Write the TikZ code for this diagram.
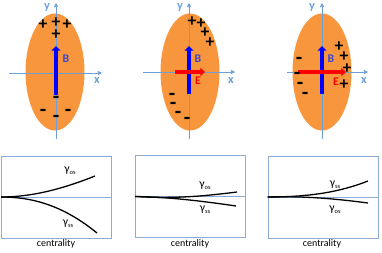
\documentclass[tikz,border=0pt]{standalone}
\usepackage{fontspec}
\setmainfont{Carlito}
\usetikzlibrary{arrows.meta,shapes.geometric}
\definecolor{blobOrange}{RGB}{247,150,60}
\definecolor{axisBlue}{RGB}{110,160,215}
\definecolor{boxBlue}{RGB}{140,172,212}
\definecolor{fieldBlue}{RGB}{0,0,255}
\definecolor{labelBlue}{RGB}{60,70,210}
\definecolor{fieldRed}{RGB}{255,0,0}

\tikzset{
  blob/.style={ellipse,fill=blobOrange,minimum width=1.77cm,minimum height=3.51cm,inner sep=0pt},
  axisline/.style={draw=axisBlue,line width=0.6pt,-{Triangle[length=3.5pt,width=3.5pt]}},
  axislabel/.style={text=axisBlue,inner sep=0pt,font=\bfseries\fontsize{10.5}{10.5}\selectfont},
  bfield/.style={draw=fieldBlue,line width=4.2pt,-{Triangle[length=4pt,width=7.5pt]}},
  efield/.style={draw=fieldRed,line width=3.6pt,-{Triangle[length=4pt,width=7pt]}},
  blabel/.style={text=labelBlue,inner sep=0pt,font=\bfseries\fontsize{10}{10}\selectfont},
  elabel/.style={text=fieldRed,inner sep=0pt,font=\bfseries\fontsize{10}{10}\selectfont},
  plussign/.style={inner sep=0pt,font=\bfseries\fontsize{15}{15}\selectfont},
  minussign/.style={inner sep=0pt,font=\bfseries\fontsize{18}{18}\selectfont},
  plotbox/.style={draw=boxBlue,line width=0.6pt,minimum width=3.3cm,minimum height=2.46cm,inner sep=0pt},
  midline/.style={draw=boxBlue,line width=0.6pt},
  trend/.style={draw=black,line width=1.1pt},
  gamlabel/.style={inner sep=0pt,font=\fontsize{10}{10}\selectfont},
  axtitle/.style={inner sep=0pt,font=\fontsize{8.5}{8.5}\selectfont}
}
\newcommand{\gsub}[1]{γ\raisebox{-1.2pt}{\fontsize{5.5}{5.5}\selectfont #1}}

\begin{document}
\begin{tikzpicture}[x=0.03cm,y=-0.03cm]
\useasboundingbox (0,0) rectangle (382,253);

% upper row
\node[blob] (ell1) at (55,72) {};
\node[blob] (ell2) at (190,72) {};
\node[blob] (ell3) at (322,72) {};

\coordinate (xa1) at (9,73);   \coordinate (xb1) at (102,73);
\coordinate (xa2) at (143,72); \coordinate (xb2) at (235,72);
\coordinate (xa3) at (287,72); \coordinate (xb3) at (368,72);
\coordinate (ya1) at (56,139);  \coordinate (yb1) at (56,3);
\coordinate (ya2) at (189,139); \coordinate (yb2) at (189,3);
\coordinate (ya3) at (322,139); \coordinate (yb3) at (322,3);
\foreach \i in {1,2,3} {
  \draw[axisline] (xa\i) -- (xb\i);
  \draw[axisline] (ya\i) -- (yb\i);
}
\node[axislabel] (xl1) at (97,81) {x};
\node[axislabel] (xl2) at (231,81) {x};
\node[axislabel] (xl3) at (364,81) {x};
\node[axislabel] (yl1) at (47,7) {y};
\node[axislabel] (yl2) at (180,7) {y};
\node[axislabel] (yl3) at (312,7) {y};

\coordinate (ba1) at (56,95);  \coordinate (bb1) at (56,46);
\coordinate (ba2) at (189,94); \coordinate (bb2) at (189,46);
\coordinate (ba3) at (322,94); \coordinate (bb3) at (322,46);
\foreach \i in {1,2,3}
  \draw[bfield] (ba\i) -- (bb\i);
\node[blabel] (bl1) at (66,59) {B};
\node[blabel] (bl2) at (198,59) {B};
\node[blabel] (bl3) at (331,59) {B};

\coordinate (ea2) at (175,72); \coordinate (eb2) at (205,72);
\coordinate (ea3) at (298,72); \coordinate (eb3) at (346,72);
\draw[efield] (ea2) -- (eb2);
\draw[efield] (ea3) -- (eb3);
\node[elabel] (el2) at (198,81) {E};
\node[elabel] (el3) at (336,82) {E};

\foreach \px/\py [count=\i] in {43/25,56/23,67/25,56/35}
  \node[plussign] (pa\i) at (\px,\py) {+};
\foreach \px/\py [count=\i] in {56/100,43/113,68/113,56/119}
  \node[minussign] (ma\i) at (\px,\py) {-};
\foreach \px/\py [count=\i] in {192/22,201/24,205/33,210/43}
  \node[plussign] (pb\i) at (\px,\py) {+};
\foreach \px/\py [count=\i] in {172/97,173/106,178/115,187/121}
  \node[minussign] (mb\i) at (\px,\py) {-};
\foreach \px/\py [count=\i] in {339/47,344/57,347/69,344/85}
  \node[plussign] (pc\i) at (\px,\py) {+};
\foreach \px/\py [count=\i] in {299/61,297/76,300/86,305/96}
  \node[minussign] (mc\i) at (\px,\py) {-};

% lower row
\node[plotbox] (p1) at (56.5,197) {};
\node[plotbox] (p2) at (190.5,196.5) {};
\node[plotbox] (p3) at (323,197) {};
\foreach \i in {1,2,3}
  \draw[midline] (p\i.west) -- (p\i.east);

\coordinate (os1) at (95,176);  \coordinate (ss1) at (97,233);
\draw[trend] (p1.west) .. controls (30,197) and (60,190) .. (os1);
\draw[trend] (p1.west) .. controls (35,197) and (65,207) .. (ss1);
\node[gamlabel] (go1) at (70,171) {\gsub{os}};
\node[gamlabel] (gs1) at (68,224) {\gsub{ss}};

\coordinate (os2) at (237,192); \coordinate (ss2) at (236,206);
\draw[trend] (p2.west) .. controls (175,199) and (205,196) .. (os2);
\draw[trend] (p2.west) .. controls (165,197) and (195,200) .. (ss2);
\node[gamlabel] (go2) at (205,186) {\gsub{os}};
\node[gamlabel] (gs2) at (205,210) {\gsub{ss}};

\coordinate (ss3) at (368,181); \coordinate (os3) at (368,203);
\draw[trend] (p3.west) .. controls (310,197) and (340,192) .. (ss3);
\draw[trend] (p3.west) .. controls (300,196) and (330,198) .. (os3);
\node[gamlabel] (gs3) at (335,185) {\gsub{ss}};
\node[gamlabel] (go3) at (335,210) {\gsub{os}};

\node[axtitle] (c1) at (56,244) {centrality};
\node[axtitle] (c2) at (190,244) {centrality};
\node[axtitle] (c3) at (322,244) {centrality};
\end{tikzpicture}
\end{document}
